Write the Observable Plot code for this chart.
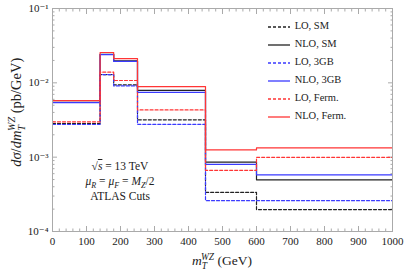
<!DOCTYPE html>
<html>
<head>
<meta charset="utf-8">
<script src="https://cdn.jsdelivr.net/npm/d3@7"></script>
<script src="https://cdn.jsdelivr.net/npm/@observablehq/plot@0.6"></script>
<style>
  body { margin: 0; background: #fff; }
  #wrap { position: relative; width: 407px; height: 271px; font-family: "Liberation Serif", "DejaVu Serif", serif; color: #222; }
  .ov { position: absolute; white-space: nowrap; line-height: 1; }
  .leg { position: absolute; left: 268px; font-size: 10.5px; }
  .leg svg { vertical-align: middle; }
  sub, sup { font-size: 70%; line-height: 0; }
</style>
</head>
<body>
<div id="wrap"></div>
<script>
// Bin edges (GeV) and per-bin differential cross sections (pb/GeV)
const edges   = [0, 140, 180, 250, 450, 600, 1000];
const loSM    = [2.83e-3, 0.0129, 9.4e-3, 3.18e-3, 3.35e-4, 1.97e-4];
const nloSM   = [5.45e-3, 0.0242, 0.0197, 7.9e-3, 8.6e-4, 4.95e-4];
const lo3GB   = [2.75e-3, 0.0129, 9.1e-3, 2.76e-3, 2.6e-4, 2.6e-4];
const nlo3GB  = [5.43e-3, 0.0240, 0.0194, 7.45e-3, 8.0e-4, 5.77e-4];
const loFerm  = [2.98e-3, 0.0139, 0.01075, 4.32e-3, 6.65e-4, 9.95e-4];
const nloFerm = [5.77e-3, 0.0256, 0.0212, 8.9e-3, 1.25e-3, 1.33e-3];

const seriesNames = ["LO, SM", "NLO, SM", "LO, 3GB", "NLO, 3GB", "LO, Ferm.", "NLO, Ferm."];
const seriesValues = [loSM, nloSM, lo3GB, nlo3GB, loFerm, nloFerm];
const seriesColors = ["#222", "#222", "#3a3aff", "#3a3aff", "#ff3535", "#ff3535"];
const seriesDashed = [true, false, true, false, true, false];

const xMajor = d3.range(0, 1001, 100);
const xMinor = d3.range(0, 1001, 20);
const yMajor = [1e-4, 1e-3, 1e-2, 1e-1];
const yMinor = [-4, -3, -2].flatMap(e => d3.range(2, 10).map(m => m * Math.pow(10, e)));
const supMap = {"-": "⁻", "0": "⁰", "1": "¹", "2": "²", "3": "³", "4": "⁴"};
const fmtPow = d => "10" + String(Math.round(Math.log10(d))).split("").map(c => supMap[c]).join("");

const rows = [];
seriesValues.forEach((vals, s) => {
  edges.forEach((e, i) => rows.push({series: seriesNames[s], x: e, y: vals[Math.min(i, vals.length - 1)]}));
});

const lineMarks = seriesNames.map((name, s) =>
  Plot.line(rows.filter(r => r.series === name), {
    x: "x", y: "y", curve: "step-after",
    stroke: seriesColors[s], strokeWidth: 1.2,
    strokeDasharray: seriesDashed[s] ? "3,2" : null
  })
);

const tickStroke = "#aaa";
const chart = Plot.plot({
  width: 407, height: 271,
  marginLeft: 52, marginRight: 15, marginTop: 8, marginBottom: 40,
  style: {fontFamily: "Liberation Serif, DejaVu Serif, serif", fontSize: "11px", color: "#222", background: "#fff"},
  x: {domain: [0, 1000]},
  y: {type: "log", domain: [1e-4, 1e-1]},
  marks: [
    Plot.axisX({anchor: "bottom", ticks: xMajor, tickSize: -5, tickPadding: 11, stroke: tickStroke, label: null, tickFormat: d => String(d)}),
    Plot.axisX({anchor: "bottom", ticks: xMinor, tickSize: -2.5, stroke: tickStroke, label: null, tickFormat: () => ""}),
    Plot.axisX({anchor: "top", ticks: xMajor, tickSize: -5, stroke: tickStroke, label: null, tickFormat: () => ""}),
    Plot.axisX({anchor: "top", ticks: xMinor, tickSize: -2.5, stroke: tickStroke, label: null, tickFormat: () => ""}),
    Plot.axisY({anchor: "left", ticks: yMajor, tickSize: -5, tickPadding: 9, stroke: tickStroke, label: null, tickFormat: fmtPow}),
    Plot.axisY({anchor: "left", ticks: yMinor, tickSize: -2.5, stroke: tickStroke, label: null, tickFormat: () => ""}),
    Plot.axisY({anchor: "right", ticks: yMajor, tickSize: -5, stroke: tickStroke, label: null, tickFormat: () => ""}),
    Plot.axisY({anchor: "right", ticks: yMinor, tickSize: -2.5, stroke: tickStroke, label: null, tickFormat: () => ""}),
    ...lineMarks,
    Plot.frame({stroke: tickStroke})
  ]
});

const wrap = document.getElementById("wrap");
wrap.appendChild(chart);

// Legend (inside the plot, top right)
const legTops = [27, 45, 63, 81, 99, 117];
seriesNames.forEach((name, s) => {
  const d = document.createElement("div");
  d.className = "leg";
  d.style.top = (legTops[s] - 7) + "px";
  d.innerHTML = `<svg width="24" height="6"><line x1="0" y1="3" x2="22" y2="3" stroke="${seriesColors[s]}" stroke-width="1.3" ${seriesDashed[s] ? 'stroke-dasharray="3,2"' : ""}/></svg> ${name}`;
  wrap.appendChild(d);
});

// Annotation
const ann = document.createElement("div");
ann.className = "ov";
ann.style.cssText = "left:70px; top:159px; width:100px; text-align:center; font-size:11.5px; line-height:15px;";
ann.innerHTML = `√<span style="text-decoration:overline"><i>s</i></span> = 13 TeV<br><i>μ</i><sub><i>R</i></sub> = <i>μ</i><sub><i>F</i></sub> = <i>M</i><sub><i>Z</i></sub>/2<br>ATLAS Cuts`;
wrap.appendChild(ann);

// Axis labels
const xl = document.createElement("div");
xl.className = "ov";
xl.style.cssText = "left:172px; top:254px; width:100px; text-align:center; font-size:13.5px;";
xl.innerHTML = `<i>m</i><sub style="position:relative"><i>T</i></sub><sup style="margin-left:-6px"><i>WZ</i></sup> (GeV)`;
wrap.appendChild(xl);

const yl = document.createElement("div");
yl.className = "ov";
yl.style.cssText = "left:-54px; top:105px; width:140px; text-align:center; font-size:14.5px; transform: rotate(-90deg);";
yl.innerHTML = `<i>dσ</i>/<i>dm</i><sub><i>T</i></sub><sup style="margin-left:-6px"><i>WZ</i></sup> (pb/GeV)`;
wrap.appendChild(yl);
</script>
</body>
</html>
